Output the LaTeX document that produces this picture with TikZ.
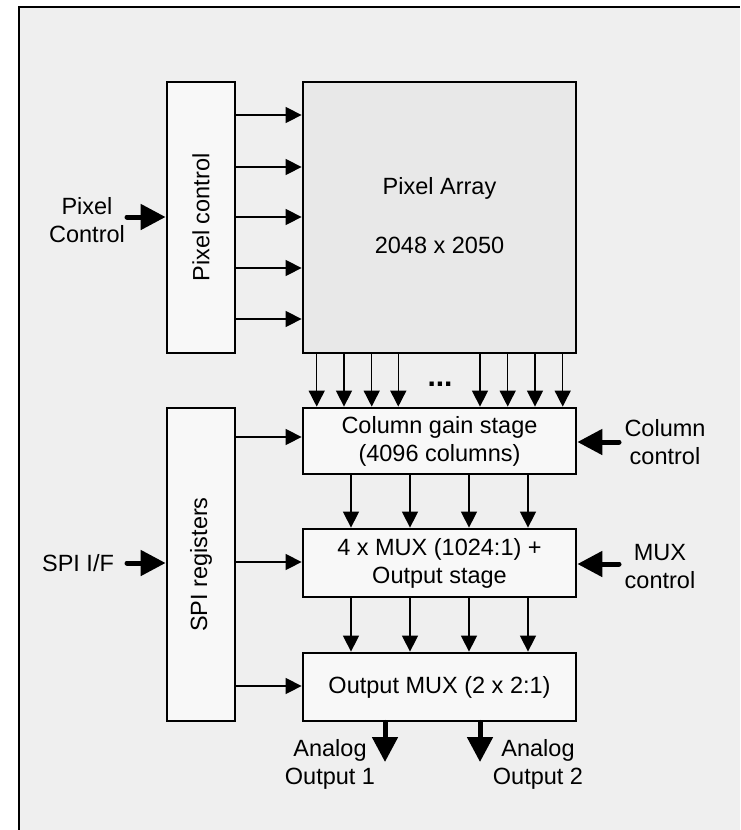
\documentclass[tikz,border=0pt]{standalone}
\usepackage{fontspec}
\setmainfont{Liberation Sans}
\usetikzlibrary{arrows.meta}
\definecolor{framebg}{HTML}{EFEFEF}
\definecolor{arraybg}{HTML}{E8E8E8}
\definecolor{boxbg}{HTML}{F8F8F8}
\tikzset{
  blockbox/.style={draw=black, line width=2.8pt, fill=boxbg, inner sep=0pt, align=center},
  thinarrow/.style={line width=1.5pt, -{Triangle[length=16pt,width=16pt]}},
  thickarrow/.style={line width=5pt, line cap=round, -{Triangle[length=25pt,width=25pt]}},
  lbl/.style={align=center, inner sep=0pt}
}
\begin{document}
\begin{tikzpicture}[x=1pt,y=-1pt,font=\fontsize{23.5}{28}\selectfont]
\useasboundingbox (0,0) rectangle (740,830);
\fill[white] (0,0) rectangle (740,830);
\fill[framebg] (19,7) rectangle (740,830);
\draw[line width=2.5pt] (19,830) -- (19,7) -- (740,7);

% blocks
\node[blockbox, minimum width=68pt, minimum height=271pt] (pc) at (201,217.5) {};
\node[rotate=90, lbl] at (pc.center) {Pixel control};
\node[blockbox, fill=arraybg, minimum width=273pt, minimum height=271pt] (pa) at (439.5,217.5) {};
\node[lbl] (patitle) at (439.5,188) {Pixel Array};
\node[lbl] (pasize) at (439.5,245) {2048 x 2050};

\node[blockbox, minimum width=273pt, minimum height=66pt] (col) at (439.5,441) {Column gain stage\\(4096 columns)};
\node[blockbox, minimum width=273pt, minimum height=68pt] (mux) at (439.5,563) {4 x MUX (1024:1) +\\Output stage};
\node[blockbox, minimum width=273pt, minimum height=68pt] (omux) at (439.5,687) {Output MUX (2 x 2:1)};

\node[blockbox, minimum width=68pt, minimum height=313pt] (spi) at (201,564.5) {};
\node[rotate=90, lbl] at (spi.center) {SPI registers};

% pixel control -> array
\foreach \yy in {115,167,217,268,319}
  \draw[thinarrow] (pc.east |- 0,\yy) -- (pa.west |- 0,\yy);

% array -> column
\foreach \xx in {316.7,344,371.7,398.3,480,507.7,535,562.7}
  \draw[thinarrow] (pa.south -| \xx,0) -- (col.north -| \xx,0);
\node[anchor=base, inner sep=0pt, font=\fontsize{30}{34}\selectfont\bfseries] (dots) at (440,386) {...};

% column -> mux, mux -> output
\foreach \xx in {351,410,469,528} {
  \draw[thinarrow] (col.south -| \xx,0) -- (mux.north -| \xx,0);
  \draw[thinarrow] (mux.south -| \xx,0) -- (omux.north -| \xx,0);
}

% spi -> blocks
\draw[thinarrow] (spi.east |- 0,437) -- (col.west |- 0,437);
\draw[thinarrow] (spi.east |- 0,562) -- (mux.west |- 0,562);
\draw[thinarrow] (spi.east |- 0,686) -- (omux.west |- 0,686);

% inputs
\coordinate (pcin) at (127,217);
\draw[thickarrow] (pcin) -- (pc.west |- pcin);
\node[lbl] (pclbl) at (87,220) {Pixel\\Control};

\coordinate (spiin) at (127,563);
\draw[thickarrow] (spiin) -- (spi.west |- spiin);
\node[lbl] (spilbl) at (78,563) {SPI I/F};

\coordinate (colin) at (619,442);
\draw[thickarrow] (colin) -- (col.east |- colin);
\node[lbl] (collbl) at (665,442) {Column\\control};

\coordinate (muxin) at (619,564);
\draw[thickarrow] (muxin) -- (mux.east |- muxin);
\node[lbl] (muxlbl) at (660,567) {MUX\\control};

% outputs
\coordinate (out1) at (385,762);
\coordinate (out2) at (480,762);
\draw[thickarrow] (omux.south -| out1) -- (out1);
\draw[thickarrow] (omux.south -| out2) -- (out2);
\node[lbl] (o1lbl) at (330,764) {Analog\\Output 1};
\node[lbl] (o2lbl) at (538,764) {Analog\\Output 2};
\end{tikzpicture}
\end{document}
